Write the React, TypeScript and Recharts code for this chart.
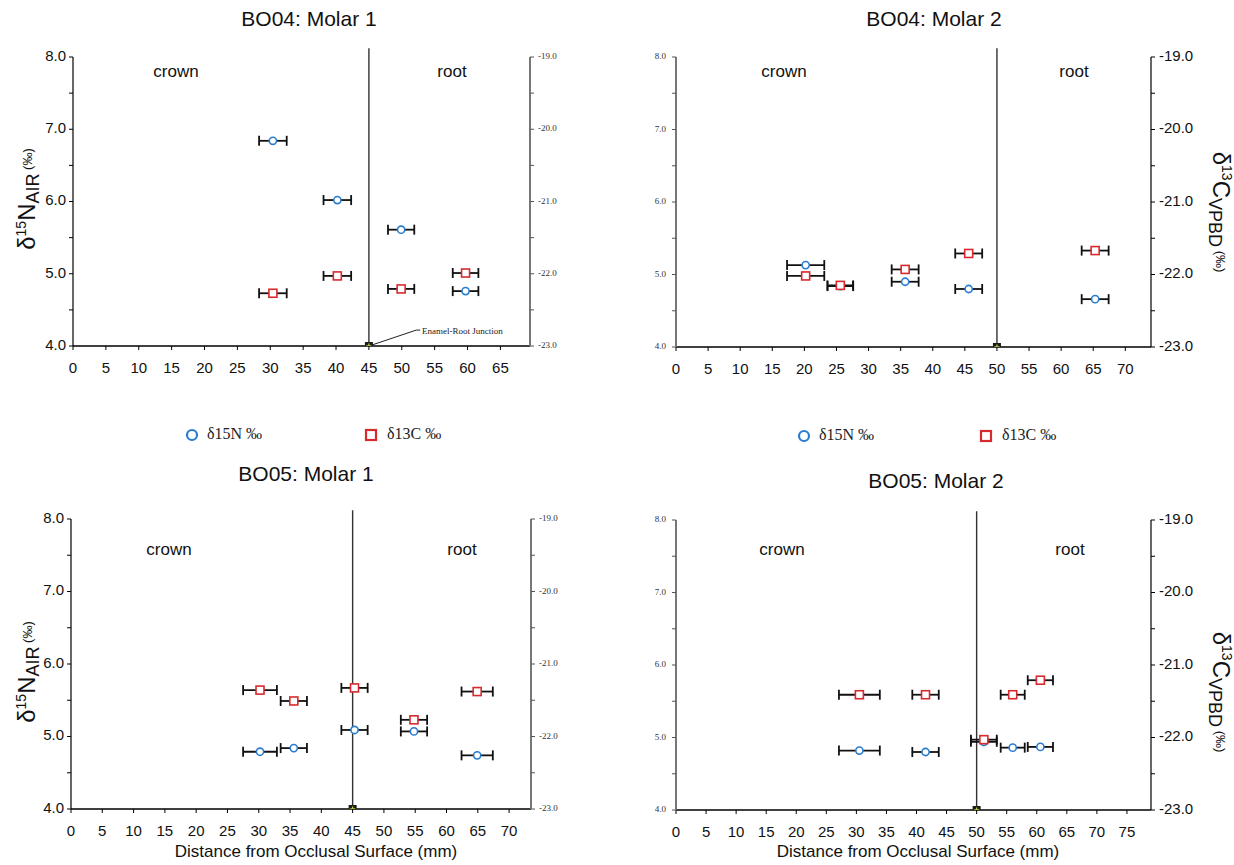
import React from 'react'
import { ScatterChart, Scatter, XAxis, YAxis, ErrorBar, ReferenceLine } from 'recharts'

const SANS = '"Liberation Sans", Arial, Helvetica, sans-serif'
const SERIF = '"Liberation Serif", "Times New Roman", Times, serif'
const BLUE = '#2a7cd0'
const RED = '#d62a2f'

// y ticks, labels only on whole numbers
const nTicks = [4, 4.5, 5, 5.5, 6, 6.5, 7, 7.5, 8]
const cTicks = [-23, -22.5, -22, -21.5, -21, -20.5, -20, -19.5, -19]

const seriesNames = ['δ15N ‰', 'δ13C ‰']
const panelTitles = ['BO04: Molar 1', 'BO04: Molar 2', 'BO05: Molar 1', 'BO05: Molar 2']

// BO04 molar 1
const bo04m1Dist = [30.4, 40.2, 49.9, 59.7]
const bo04m1N = [6.84, 6.02, 5.61, 4.76]
const bo04m1C = [-22.27, -22.03, -22.21, -21.99]
const bo04m1Err = [2.1, 2.1, 2.0, 1.95]
const bo04m1XTicks = [0, 5, 10, 15, 20, 25, 30, 35, 40, 45, 50, 55, 60, 65]

// BO04 molar 2
const bo04m2Dist = [20.2, 25.6, 35.7, 45.6, 65.3]
const bo04m2N = [5.13, 4.84, 4.9, 4.8, 4.66]
const bo04m2C = [-22.02, -22.15, -21.93, -21.71, -21.67]
const bo04m2Err = [2.9, 2.0, 2.1, 2.1, 2.1]
const bo04m2XTicks = [0, 5, 10, 15, 20, 25, 30, 35, 40, 45, 50, 55, 60, 65, 70]

// BO05 molar 1
const bo05m1Dist = [30.2, 35.6, 45.3, 54.8, 64.9]
const bo05m1N = [4.79, 4.84, 5.09, 5.07, 4.74]
const bo05m1C = [-21.36, -21.51, -21.33, -21.77, -21.38]
const bo05m1Err = [2.7, 2.1, 2.1, 2.1, 2.5]
const bo05m1XTicks = [0, 5, 10, 15, 20, 25, 30, 35, 40, 45, 50, 55, 60, 65, 70]

// BO05 molar 2
const bo05m2Dist = [30.5, 41.5, 51.2, 56.0, 60.6]
const bo05m2N = [4.82, 4.8, 4.94, 4.86, 4.87]
const bo05m2C = [-21.41, -21.41, -22.03, -21.41, -21.21]
const bo05m2Err = [3.4, 2.2, 2.15, 2.0, 2.1]
const bo05m2XTicks = [0, 5, 10, 15, 20, 25, 30, 35, 40, 45, 50, 55, 60, 65, 70, 75]

const BIG_AXIS = { stroke: '#000', strokeWidth: 1.2 }
const SMALL_AXIS = { stroke: '#777', strokeWidth: 2 }

function makeTick(big: boolean) {
  return (props: any) => {
    const { x, y, payload, textAnchor } = props
    const v = payload.value
    if (Math.abs(v - Math.round(v)) > 1e-6) return <g />
    return (
      <text
        x={x}
        y={y}
        textAnchor={textAnchor}
        dominantBaseline="middle"
        fontFamily={big ? SANS : SERIF}
        fontSize={big ? 15 : 9}
        fill={big ? '#111' : '#333'}
      >
        {v.toFixed(1)}
      </text>
    )
  }
}

const circleShape = (p: any) => (
  <circle cx={p.cx} cy={p.cy} r={3.6} fill="#fff" stroke={BLUE} strokeWidth={1.6} />
)
const squareShape = (p: any) => (
  <rect x={p.cx - 4} y={p.cy - 4} width={8} height={8} fill="#fff" stroke={RED} strokeWidth={1.6} />
)
const junctionShape = (p: any) => (
  <g>
    <rect x={p.cx - 4} y={p.cy - 4} width={8} height={8} fill="#1b1b1b" />
    <path d={`M${p.cx - 2.5},${p.cy}H${p.cx + 2.5}M${p.cx},${p.cy - 2.5}V${p.cy + 2.5}`} stroke="#b8cc3a" strokeWidth={1.3} />
  </g>
)

function Panel(props: any) {
  const { pos, margin, xMax, xTicks, dist, n, c, err, junction, bigSide, leader } = props
  const data = dist.map((x: number, i: number) => ({ x, n: n[i], c: c[i], err: err[i] }))
  const bigLeft = bigSide === 'left'
  return (
    <div style={{ position: 'absolute', left: pos.left, top: pos.top }}>
      <ScatterChart width={pos.width} height={pos.height} margin={margin}>
        <XAxis
          type="number"
          dataKey="x"
          domain={[0, xMax]}
          ticks={xTicks}
          interval={0}
          allowDataOverflow
          height={30}
          tickSize={4}
          tickMargin={12}
          axisLine={{ stroke: '#000', strokeWidth: 1.5 }}
          tickLine={{ stroke: '#000' }}
          tick={{ fontFamily: SANS, fontSize: 15, fill: '#111' }}
        />
        <YAxis
          yAxisId="n"
          orientation="left"
          type="number"
          dataKey="n"
          domain={[4, 8]}
          ticks={nTicks}
          interval={0}
          allowDataOverflow
          width={50}
          tickSize={4}
          tickMargin={bigLeft ? 3 : 6}
          axisLine={bigLeft ? BIG_AXIS : SMALL_AXIS}
          tickLine={{ stroke: bigLeft ? '#000' : '#555' }}
          tick={makeTick(bigLeft)}
        />
        <YAxis
          yAxisId="c"
          orientation="right"
          type="number"
          dataKey="c"
          domain={[-23, -19]}
          ticks={cTicks}
          interval={0}
          allowDataOverflow
          width={50}
          tickSize={4}
          tickMargin={4}
          axisLine={bigLeft ? SMALL_AXIS : BIG_AXIS}
          tickLine={{ stroke: bigLeft ? '#555' : '#000' }}
          tick={makeTick(!bigLeft)}
        />
        <ReferenceLine
          yAxisId="n"
          segment={[{ x: junction, y: 4 }, { x: junction, y: 8.12 }]}
          stroke="#333"
          strokeWidth={1.4}
          ifOverflow="visible"
        />
        {leader && (
          <ReferenceLine
            yAxisId="n"
            segment={[{ x: junction, y: 4 }, { x: leader.x, y: leader.y }]}
            stroke="#222"
            strokeWidth={1}
            ifOverflow="visible"
          />
        )}
        {leader && (
          <ReferenceLine
            yAxisId="n"
            segment={[{ x: leader.x, y: leader.y }, { x: leader.x + 0.6, y: leader.y }]}
            stroke="#222"
            strokeWidth={1}
            ifOverflow="visible"
          />
        )}
        <Scatter name={seriesNames[0]} yAxisId="n" data={data} shape={circleShape} isAnimationActive={false}>
          <ErrorBar dataKey="err" direction="x" width={5} stroke="#111" strokeWidth={1.8} isAnimationActive={false} />
        </Scatter>
        <Scatter name={seriesNames[1]} yAxisId="c" data={data} shape={squareShape} isAnimationActive={false}>
          <ErrorBar dataKey="err" direction="x" width={5} stroke="#111" strokeWidth={1.8} isAnimationActive={false} />
        </Scatter>
        <Scatter yAxisId="n" data={[{ x: junction, n: 4 }]} shape={junctionShape} legendType="none" isAnimationActive={false} />
      </ScatterChart>
    </div>
  )
}

function NLabel({ x, y }: { x: number; y: number }) {
  return (
    <text transform={`translate(${x},${y}) rotate(-90)`} textAnchor="middle" fontFamily={SANS} fill="#111">
      <tspan fontSize={24}>δ</tspan>
      <tspan fontSize={14} dy={-9}>15</tspan>
      <tspan fontSize={24} dy={9}>N</tspan>
      <tspan fontSize={18} dy={4}>AIR</tspan>
      <tspan fontSize={13} dy={-7}> (‰)</tspan>
    </text>
  )
}

function CLabel({ x, y }: { x: number; y: number }) {
  return (
    <text transform={`translate(${x},${y}) rotate(90)`} textAnchor="middle" fontFamily={SANS} fill="#111">
      <tspan fontSize={24}>δ</tspan>
      <tspan fontSize={14} dy={-9}>13</tspan>
      <tspan fontSize={24} dy={9}>C</tspan>
      <tspan fontSize={18} dy={4}>VPBD</tspan>
      <tspan fontSize={13} dy={-7}> (‰)</tspan>
    </text>
  )
}

function LegendRow({ circleX, squareX, y }: { circleX: number; squareX: number; y: number }) {
  return (
    <g fontFamily={SERIF} fontSize={16} fill="#222">
      <circle cx={circleX} cy={y} r={5} fill="none" stroke={BLUE} strokeWidth={2.2} />
      <text x={circleX + 15} y={y} dominantBaseline="middle">{seriesNames[0]}</text>
      <rect x={squareX - 5} y={y - 5} width={10} height={10} fill="none" stroke={RED} strokeWidth={2.2} />
      <text x={squareX + 16} y={y} dominantBaseline="middle">{seriesNames[1]}</text>
    </g>
  )
}

function Overlay() {
  const title = { fontFamily: SANS, fontSize: 21, fill: '#111', textAnchor: 'middle' as const, dominantBaseline: 'middle' as const }
  const zone = { fontFamily: SANS, fontSize: 17, fill: '#111', textAnchor: 'middle' as const, dominantBaseline: 'middle' as const }
  const xlab = { fontFamily: SANS, fontSize: 17, fill: '#111', textAnchor: 'middle' as const, dominantBaseline: 'middle' as const }
  return (
    <svg width={1234} height={865} style={{ position: 'absolute', left: 0, top: 0, pointerEvents: 'none' }}>
      <text x={309} y={20} {...title}>{panelTitles[0]}</text>
      <text x={934} y={20} {...title}>{panelTitles[1]}</text>
      <text x={306} y={475} {...title}>{panelTitles[2]}</text>
      <text x={936} y={482} {...title}>{panelTitles[3]}</text>

      <text x={176} y={73} {...zone}>crown</text>
      <text x={452} y={73} {...zone}>root</text>
      <text x={784} y={73} {...zone}>crown</text>
      <text x={1074} y={73} {...zone}>root</text>
      <text x={169} y={551} {...zone}>crown</text>
      <text x={462} y={551} {...zone}>root</text>
      <text x={782} y={551} {...zone}>crown</text>
      <text x={1070} y={551} {...zone}>root</text>

      <text x={422} y={332} fontFamily={SERIF} fontSize={9} fill="#222" dominantBaseline="middle">Enamel-Root Junction</text>

      <NLabel x={35} y={199} />
      <NLabel x={35} y={672} />
      <CLabel x={1213} y={212} />
      <CLabel x={1213} y={692} />

      <text x={316} y={853} {...xlab}>Distance from Occlusal Surface (mm)</text>
      <text x={918} y={853} {...xlab}>Distance from Occlusal Surface (mm)</text>

      <LegendRow circleX={192} squareX={371} y={435} />
      <LegendRow circleX={804} squareX={986} y={436} />
    </svg>
  )
}

export default function App() {
  return (
    <div style={{ position: 'absolute', left: 0, top: 0, width: 1234, height: 865, background: '#fff' }}>
      <Panel
        pos={{ left: 0, top: 0, width: 620, height: 430 }}
        margin={{ top: 57, right: 40, bottom: 54, left: 23 }}
        xMax={69.5}
        xTicks={bo04m1XTicks}
        dist={bo04m1Dist}
        n={bo04m1N}
        c={bo04m1C}
        err={bo04m1Err}
        junction={45}
        bigSide="left"
        leader={{ x: 52.2, y: 4.22 }}
      />
      <Panel
        pos={{ left: 620, top: 0, width: 614, height: 430 }}
        margin={{ top: 57, right: 33, bottom: 53, left: 6 }}
        xMax={74}
        xTicks={bo04m2XTicks}
        dist={bo04m2Dist}
        n={bo04m2N}
        c={bo04m2C}
        err={bo04m2Err}
        junction={50}
        bigSide="right"
      />
      <Panel
        pos={{ left: 0, top: 440, width: 620, height: 425 }}
        margin={{ top: 79, right: 39, bottom: 26, left: 21 }}
        xMax={73.5}
        xTicks={bo05m1XTicks}
        dist={bo05m1Dist}
        n={bo05m1N}
        c={bo05m1C}
        err={bo05m1Err}
        junction={45}
        bigSide="left"
      />
      <Panel
        pos={{ left: 620, top: 440, width: 614, height: 425 }}
        margin={{ top: 80, right: 33, bottom: 25, left: 6 }}
        xMax={79}
        xTicks={bo05m2XTicks}
        dist={bo05m2Dist}
        n={bo05m2N}
        c={bo05m2C}
        err={bo05m2Err}
        junction={50}
        bigSide="right"
      />
      <Overlay />
    </div>
  )
}
